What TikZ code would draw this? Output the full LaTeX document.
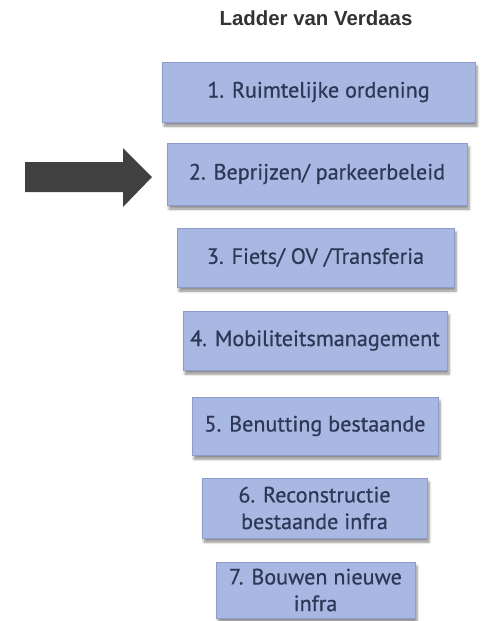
\documentclass[tikz,border=0pt]{standalone}
\usepackage{fontspec}
\setmainfont{PT Sans}
\newfontfamily\rungfont[FakeBold=0.6]{PT Sans}
\newfontfamily\titlefont{Liberation Sans}
\usetikzlibrary{shadows.blur}
\definecolor{boxfill}{RGB}{168,184,226}
\definecolor{boxline}{RGB}{140,156,204}
\definecolor{boxtext}{RGB}{46,56,86}
\definecolor{arrowcol}{RGB}{64,64,64}
\tikzset{
  rung/.style={draw=boxline, line width=0.6pt, fill=boxfill, text=boxtext,
    font=\rungfont\fontsize{16.6}{20}\selectfont, align=center, inner sep=0pt,
    blur shadow={shadow xshift=1.5pt, shadow yshift=-3pt, shadow blur steps=6, shadow opacity=45}},
}
\begin{document}
\begin{tikzpicture}[x=0.75pt,y=-0.75pt]
\useasboundingbox (0,0) rectangle (483,621);
\node[font=\titlefont\bfseries\fontsize{15.3}{17}\selectfont, text=black!80] (title) at (316,18) {Ladder van Verdaas};
\node[rung, minimum width=313*0.75pt, minimum height=60*0.75pt] (r1) at (318.5,92) {1. Ruimtelijke ordening};
\node[rung, minimum width=300*0.75pt, minimum height=62*0.75pt] (r2) at (317,174) {2. Beprijzen/ parkeerbeleid};
\node[rung, minimum width=277*0.75pt, minimum height=59*0.75pt] (r3) at (315.5,257.5) {3. Fiets/ OV /Transferia};
\node[rung, minimum width=264*0.75pt, minimum height=59*0.75pt] (r4) at (315,340.5) {4. Mobiliteitsmanagement};
\node[rung, minimum width=246*0.75pt, minimum height=58*0.75pt] (r5) at (315,426) {5. Benutting bestaande};
\node[rung, minimum width=225*0.75pt, minimum height=60*0.75pt] (r6) at (314.5,508) {6. Reconstructie\\bestaande infra};
\node[rung, minimum width=199*0.75pt, minimum height=56*0.75pt] (r7) at (315.5,590) {7. Bouwen nieuwe\\infra};
\fill[arrowcol] (25,162) -- (123,162) -- (123,148) -- (152,177) -- (123,207) -- (123,192) -- (25,192) -- cycle;
\end{tikzpicture}
\end{document}
